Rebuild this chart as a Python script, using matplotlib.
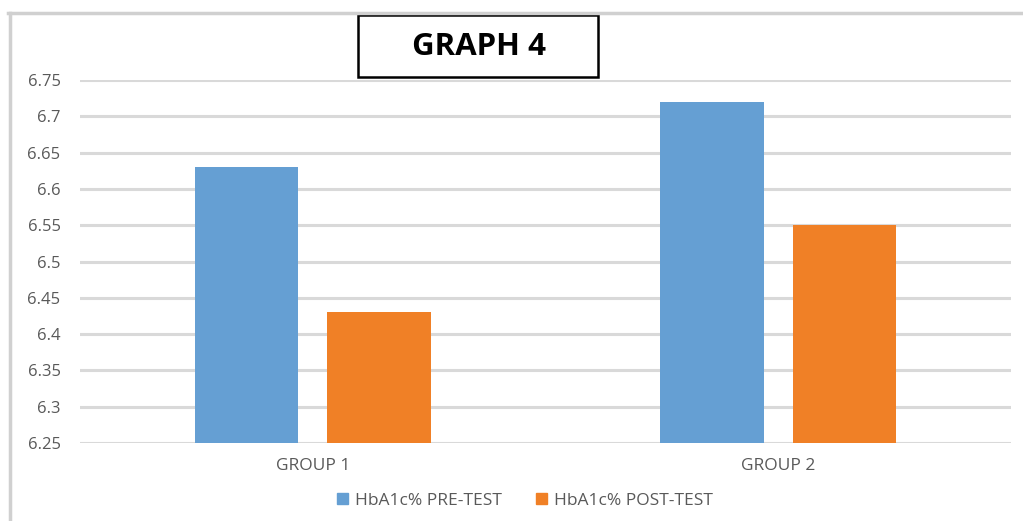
import numpy as np
import matplotlib.pyplot as plt
from matplotlib.lines import Line2D
from matplotlib.patches import Patch, Rectangle

# data
groups = ['GROUP 1', 'GROUP 2']
pre_test = [6.63, 6.72]
post_test = [6.43, 6.55]
series_names = ['HbA1c% PRE-TEST', 'HbA1c% POST-TEST']
yticks = [6.25, 6.3, 6.35, 6.4, 6.45, 6.5, 6.55, 6.6, 6.65, 6.7, 6.75]
ytick_labels = ['6.25', '6.3', '6.35', '6.4', '6.45', '6.5', '6.55', '6.6', '6.65', '6.7', '6.75']

blue = '#659fd3'
orange = '#f08026'
grid_c = '#d9d9d9'
text_c = '#595959'

plt.rcParams['font.family'] = ['Open Sans', 'DejaVu Sans']

fig = plt.figure(figsize=(10.23, 5.21), dpi=100)
W, H = 1023, 521
ax = fig.add_axes([80 / W, 1 - 443 / H, (1011 - 80) / W, (443 - 80) / H])

x = np.arange(len(groups))
w = 0.223
off = 0.1425
ax.bar(x - off, np.array(pre_test) - 6.25, w, bottom=6.25, color=blue, zorder=3)
ax.bar(x + off, np.array(post_test) - 6.25, w, bottom=6.25, color=orange, zorder=3)

ax.set_xlim(-0.5, 1.5)
ax.set_ylim(6.25, 6.75)
ax.set_yticks(yticks)
ax.set_yticklabels(ytick_labels)
ax.set_xticks(x)
ax.set_xticklabels(groups)
ax.tick_params(length=0, labelcolor=text_c)
ax.tick_params(axis='y', pad=14, labelsize=12)
ax.tick_params(axis='x', pad=11, labelsize=12.5)
for s in ax.spines.values():
    s.set_visible(False)
ax.grid(axis='y', color=grid_c, linewidth=2.2, zorder=0)
ax.set_axisbelow(True)

# legend
handles = [Patch(color=blue), Patch(color=orange)]
fig.legend(handles, series_names, loc='center', bbox_to_anchor=(525 / W, 1 - 501 / H),
           ncol=2, frameon=False, fontsize=12.5, labelcolor=text_c,
           handlelength=0.6, handleheight=0.6, handletextpad=0.4, columnspacing=2.0)

# title box
fig.patches.append(Rectangle((358 / W, 1 - 77 / H), 240 / W, 62 / H, transform=fig.transFigure,
                             facecolor='white', edgecolor='black', linewidth=1.8, zorder=1))
fig.text(479 / W, 1 - 47 / H, 'GRAPH 4', ha='center', va='center', fontsize=22.5,
         fontweight='bold', color='black', zorder=2)

# outer frame lines
fig.add_artist(Line2D([9.5 / W, 9.5 / W], [0, 1 - 13 / H], color='#d0d0d0', linewidth=2.5))
fig.add_artist(Line2D([8 / W, 1], [1 - 13 / H, 1 - 13 / H], color='#d0d0d0', linewidth=2.5))

fig.savefig('out.png', dpi=100)
